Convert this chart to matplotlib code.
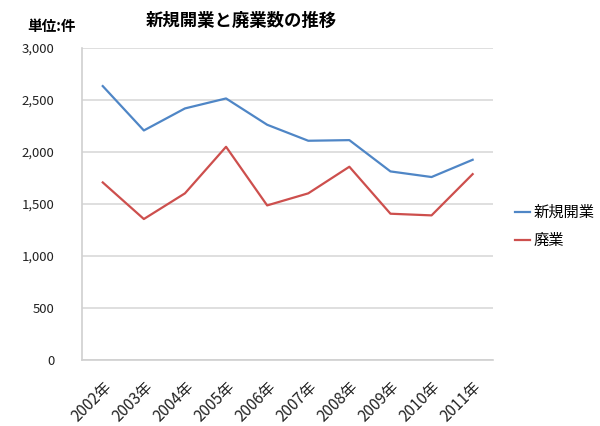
import numpy as np
import matplotlib
matplotlib.use('Agg')
import matplotlib.pyplot as plt

plt.rcParams['font.family'] = ['Noto Sans CJK JP', 'DejaVu Sans']

years = ['2002年', '2003年', '2004年', '2005年', '2006年',
         '2007年', '2008年', '2009年', '2010年', '2011年']
kaigyo = [2635, 2208, 2420, 2516, 2263, 2109, 2115, 1814, 1760, 1926]
haigyo = [1708, 1356, 1603, 2051, 1487, 1603, 1859, 1407, 1391, 1788]

fig = plt.figure(figsize=(6, 4.26), dpi=100)
ax = fig.add_axes([0.137, 0.155, 0.685, 0.732])

x = np.arange(len(years))
ax.plot(x, kaigyo, color='#4F86C6', lw=1.6, label='新規開業')
ax.plot(x, haigyo, color='#CD4F4D', lw=1.6, label='廃業')

ax.set_xlim(-0.5, len(years) - 0.5)
ax.set_ylim(0, 3000)
ax.set_yticks(np.arange(0, 3001, 500))
ax.set_yticklabels(['{:,}'.format(v) for v in range(0, 3001, 500)], fontsize=9.5, color='#222222')
ax.set_xticks(x)
ax.set_xticklabels(years, rotation=45, ha='right', rotation_mode='anchor', fontsize=11, color='#222222')
ax.tick_params(length=0)
ax.tick_params(axis='x', pad=13)
ax.tick_params(axis='y', pad=20)
ax.grid(axis='y', color='#D9D9D9', lw=1.2)
ax.set_axisbelow(True)
for s in ['top', 'right']:
    ax.spines[s].set_visible(False)
for s in ['left', 'bottom']:
    ax.spines[s].set_color('#D0D0D0')
    ax.spines[s].set_linewidth(1.2)

fig.text(0.402, 0.952, '新規開業と廃業数の推移', fontsize=12.5, fontweight='bold', ha='center', va='center')
fig.text(0.045, 0.94, '単位:件', fontsize=10.5, fontweight='bold', ha='left', va='center')

fig.legend(loc='center left', bbox_to_anchor=(0.835, 0.468), frameon=False, fontsize=11,
           handlelength=1.0, handletextpad=0.2, labelspacing=0.75)

plt.savefig('out.png', dpi=100)
